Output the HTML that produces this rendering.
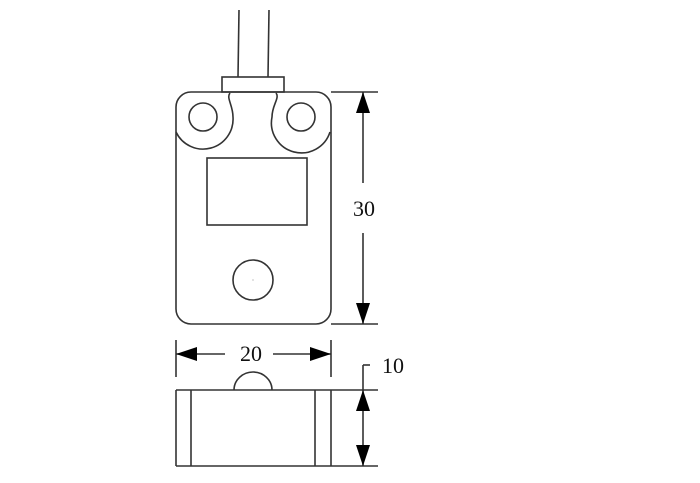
<!DOCTYPE html>
<html><head><style>body{margin:0;background:#fff}svg{display:block}</style></head><body>
<svg width="700" height="483" viewBox="0 0 700 483" xmlns="http://www.w3.org/2000/svg" fill="none" stroke="#333" stroke-width="1.6">
<line x1="239" y1="10" x2="238" y2="77"/><line x1="269" y1="10" x2="268" y2="77"/>
<rect x="222" y="77" width="62" height="15"/>
<rect x="176" y="92" width="155" height="232" rx="15"/>
<path d="M230,93 C226,98 233,105 233,117 A30,30 0 0 1 176,132"/>
<path d="M276,93 C280,98 272,105 272,117 A30,30 0 0 0 330,132"/>
<circle cx="203" cy="117" r="14"/><circle cx="301" cy="117" r="14"/>
<rect x="207" y="158" width="100" height="67"/>
<circle cx="253" cy="280" r="20"/>
<circle cx="253" cy="280" r="0.6" fill="#999" stroke="none"/>
<line x1="331" y1="92" x2="378" y2="92"/><line x1="331" y1="324" x2="378" y2="324"/>
<line x1="363" y1="92" x2="363" y2="183"/><line x1="363" y1="233" x2="363" y2="324"/>
<polygon points="363,92 356,113 370,113" fill="#000" stroke="none"/>
<polygon points="363,324 356,303 370,303" fill="#000" stroke="none"/>
<text x="364" y="216" font-family="Liberation Serif, serif" font-size="22" fill="#111" stroke="none" text-anchor="middle">30</text>
<line x1="176" y1="340" x2="176" y2="377"/><line x1="331" y1="340" x2="331" y2="377"/>
<line x1="176" y1="354" x2="225" y2="354"/><line x1="273" y1="354" x2="331" y2="354"/>
<polygon points="176,354 197,347 197,361" fill="#000" stroke="none"/>
<polygon points="331,354 310,347 310,361" fill="#000" stroke="none"/>
<text x="251" y="361" font-family="Liberation Serif, serif" font-size="22" fill="#111" stroke="none" text-anchor="middle">20</text>
<line x1="176" y1="390" x2="378" y2="390"/><line x1="176" y1="466" x2="378" y2="466"/>
<line x1="176" y1="390" x2="176" y2="466"/><line x1="191" y1="390" x2="191" y2="466"/>
<line x1="315" y1="390" x2="315" y2="466"/><line x1="331" y1="390" x2="331" y2="466"/>
<path d="M234,390 A19,18 0 0 1 272,390"/>
<line x1="363" y1="365" x2="363" y2="466"/><line x1="363" y1="365" x2="370" y2="365"/>
<polygon points="363,390 356,411 370,411" fill="#000" stroke="none"/>
<polygon points="363,466 356,445 370,445" fill="#000" stroke="none"/>
<text x="382" y="373" font-family="Liberation Serif, serif" font-size="22" fill="#111" stroke="none">10</text>
</svg>
</body></html>
